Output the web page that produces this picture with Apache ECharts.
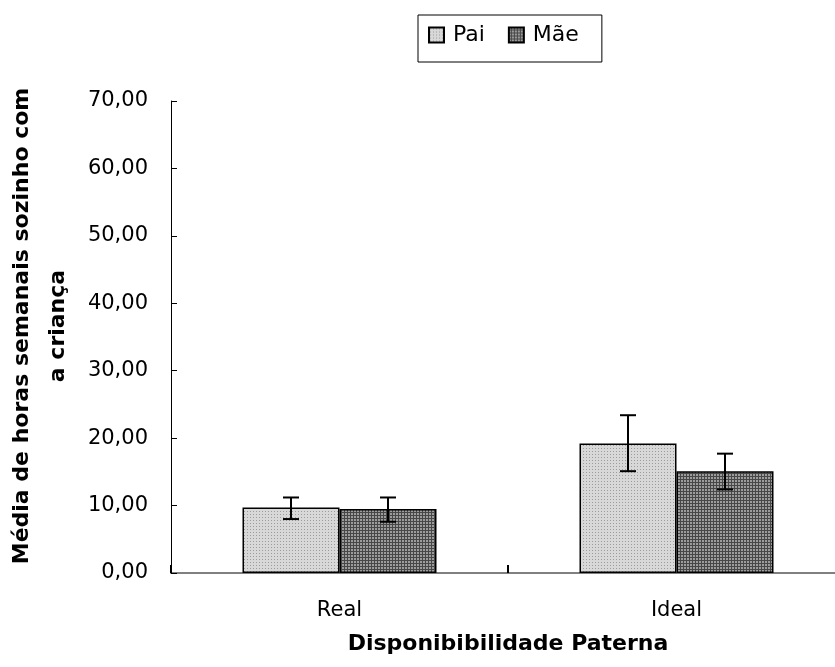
<!DOCTYPE html>
<html>
<head>
<meta charset="utf-8">
<script src="https://cdn.jsdelivr.net/npm/echarts@6/dist/echarts.min.js"></script>
<style>
html,body{margin:0;padding:0;background:#fff;}
#chart{width:835px;height:667px;}
</style>
</head>
<body>
<div id="chart"></div>
<script>
// ---- data ----
const categories = ['Real', 'Ideal'];
const seriesNames = ['Pai', 'Mãe'];
const paiMeans = [9.7, 19.2];
const maeMeans = [9.5, 15.1];
const paiErrLow = [8.0, 15.1];
const paiErrHigh = [11.2, 23.4];
const maeErrLow = [7.6, 12.4];
const maeErrHigh = [11.2, 17.7];
const yTicks = [0, 10, 20, 30, 40, 50, 60, 70];
const yTitle = 'Média de horas semanais sozinho com\na criança';
const xTitle = 'Disponibibilidade Paterna';

// ---- styles ----
const FONT = 'DejaVu Sans';
const BAR_W = 97;

function makePattern(bg, fg, cells, size) {
  const c = document.createElement('canvas');
  c.width = size; c.height = size;
  const g = c.getContext('2d');
  g.fillStyle = bg; g.fillRect(0, 0, size, size);
  g.fillStyle = fg;
  cells.forEach(p => g.fillRect(p[0], p[1], 1, 1));
  return c;
}
const paiPattern = makePattern('#d8d8d8', '#9c9c9c', [[1, 1]], 3);
const maePattern = makePattern('#474747', '#9c9c9c', [[0, 0], [1, 0], [0, 1], [1, 1]], 3);

const chart = echarts.init(document.getElementById('chart'), null, {renderer: 'canvas'});

function errSeries(idx, lows, highs) {
  const dir = idx === 0 ? -1 : 1;
  return {
    type: 'custom',
    name: seriesNames[idx] + ' erro',
    z: 10,
    silent: true,
    data: categories.map((c, i) => [i, lows[i], highs[i]]),
    renderItem: function (params, api) {
      const lo = api.coord([api.value(0), api.value(1)]);
      const hi = api.coord([api.value(0), api.value(2)]);
      const x = lo[0] + dir * BAR_W / 2;
      const cap = 8;
      const st = {stroke: '#000', lineWidth: 2};
      return {
        type: 'group',
        children: [
          {type: 'line', shape: {x1: x, y1: lo[1], x2: x, y2: hi[1]}, style: st},
          {type: 'line', shape: {x1: x - cap, y1: lo[1], x2: x + cap, y2: lo[1]}, style: st},
          {type: 'line', shape: {x1: x - cap, y1: hi[1], x2: x + cap, y2: hi[1]}, style: st}
        ]
      };
    }
  };
}

const option = {
  backgroundColor: '#fff',
  animation: false,
  textStyle: {fontFamily: FONT},
  legend: {
    data: seriesNames,
    left: 418,
    top: 15,
    orient: 'horizontal',
    itemWidth: 15,
    itemHeight: 15,
    itemGap: 23,
    padding: [9, 23, 16, 10],
    borderColor: '#000',
    borderWidth: 1,
    icon: 'rect',
    textStyle: {fontFamily: FONT, fontSize: 22, color: '#000', padding: [0, 0, 0, 4]}
  },
  grid: {left: 171, top: 101, width: 674, height: 472, containLabel: false, outerBoundsMode: 'none'},
  xAxis: {
    type: 'category',
    data: categories,
    boundaryGap: true,
    axisLine: {lineStyle: {color: '#808080', width: 2}},
    axisTick: {show: true, inside: true, length: 8, lineStyle: {color: '#000', width: 2}},
    axisLabel: {fontFamily: FONT, fontSize: 21, color: '#000', margin: 27},
    name: xTitle,
    nameLocation: 'middle',
    nameGap: 60,
    nameTextStyle: {fontFamily: FONT, fontSize: 22, fontWeight: 'bold', color: '#000'}
  },
  yAxis: {
    type: 'value',
    min: 0,
    max: 70,
    interval: 10,
    splitLine: {show: false},
    axisLine: {show: true, lineStyle: {color: '#000', width: 1}},
    axisTick: {show: true, inside: true, length: 6, lineStyle: {color: '#000'}},
    axisLabel: {
      fontFamily: FONT, fontSize: 21, color: '#000', margin: 23,
      formatter: v => yTicks.indexOf(v) >= 0 ? v.toFixed(2).replace('.', ',') : ''
    },
    name: yTitle,
    nameLocation: 'middle',
    nameRotate: 90,
    nameGap: 95,
    nameTextStyle: {fontFamily: FONT, fontSize: 22, fontWeight: 'bold', color: '#000', lineHeight: 36, align: 'center', padding: [0, 0, 0, 22]}
  },
  series: [
    {
      name: seriesNames[0],
      type: 'bar',
      data: paiMeans,
      barWidth: BAR_W,
      barGap: '0%',
      itemStyle: {color: {image: paiPattern, repeat: 'repeat'}, borderColor: '#000', borderWidth: 1.5}
    },
    {
      name: seriesNames[1],
      type: 'bar',
      data: maeMeans,
      barWidth: BAR_W,
      barGap: '0%',
      itemStyle: {color: {image: maePattern, repeat: 'repeat'}, borderColor: '#000', borderWidth: 1.5}
    },
    errSeries(0, paiErrLow, paiErrHigh),
    errSeries(1, maeErrLow, maeErrHigh)
  ]
};
chart.setOption(option);
</script>
</body>
</html>
